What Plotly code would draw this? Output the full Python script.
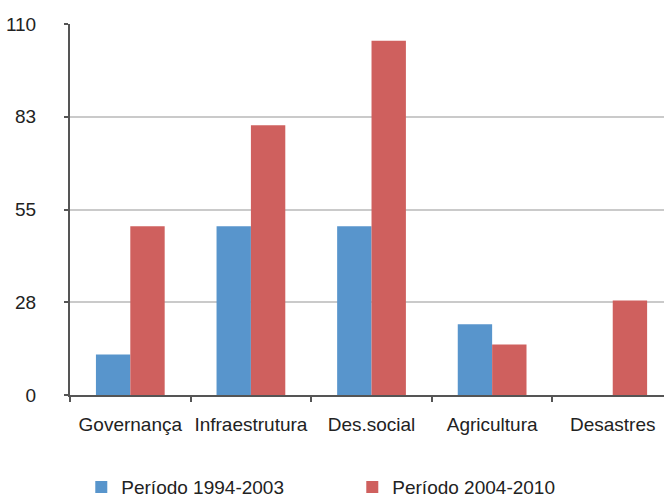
import plotly.graph_objects as go

categories = ["Governança", "Infraestrutura", "Des.social", "Agricultura", "Desastres"]
periodo_1994_2003 = [12, 50, 50, 21, 0]
periodo_2004_2010 = [50, 80, 105, 15, 28]
tick_values = [0, 27.5, 55, 82.5, 110]
tick_labels = ["0", "28", "55", "83", "110"]

BLUE = "#5895cc"
RED = "#cf605e"
FONT = "Liberation Sans, Arial, Helvetica, sans-serif"
FS = 19

fig = go.Figure()
fig.add_trace(go.Bar(x=categories, y=periodo_1994_2003, name="Período 1994-2003",
                     marker=dict(color=BLUE, line=dict(width=0))))
fig.add_trace(go.Bar(x=categories, y=periodo_2004_2010, name="Período 2004-2010",
                     marker=dict(color=RED, line=dict(width=0))))

fig.update_layout(
    width=664, height=498,
    margin=dict(l=70, r=0, t=24, b=103, autoexpand=False),
    paper_bgcolor="white", plot_bgcolor="white",
    font=dict(family=FONT, size=FS, color="#222"),
    barmode="group", bargap=0.43, bargroupgap=0,
    showlegend=True,
    legend=dict(orientation="h", x=0.019, xanchor="left",
                yref="container", y=0.022, yanchor="middle",
                entrywidth=226, entrywidthmode="pixels",
                font=dict(size=FS, color="#222"), traceorder="normal"),
    xaxis=dict(type="category", range=[-0.5, 4.425], tickangle=0, automargin=False,
               showline=True, linecolor="#555", linewidth=2,
               ticks="outside", tickson="boundaries", ticklen=5, tickcolor="#555", tickwidth=2,
               showgrid=False, ticklabelstandoff=11,
               tickfont=dict(size=FS, color="#222")),
    yaxis=dict(range=[0, 110], tickvals=tick_values, ticktext=tick_labels, automargin=False,
               showline=True, linecolor="#555", linewidth=2,
               ticks="outside", ticklen=4, tickcolor="#555", tickwidth=2,
               showgrid=True, gridcolor="#cacaca", gridwidth=1.5,
               zeroline=False, ticklabelstandoff=24,
               tickfont=dict(size=FS, color="#222")),
)

fig.write_html("out.html")
